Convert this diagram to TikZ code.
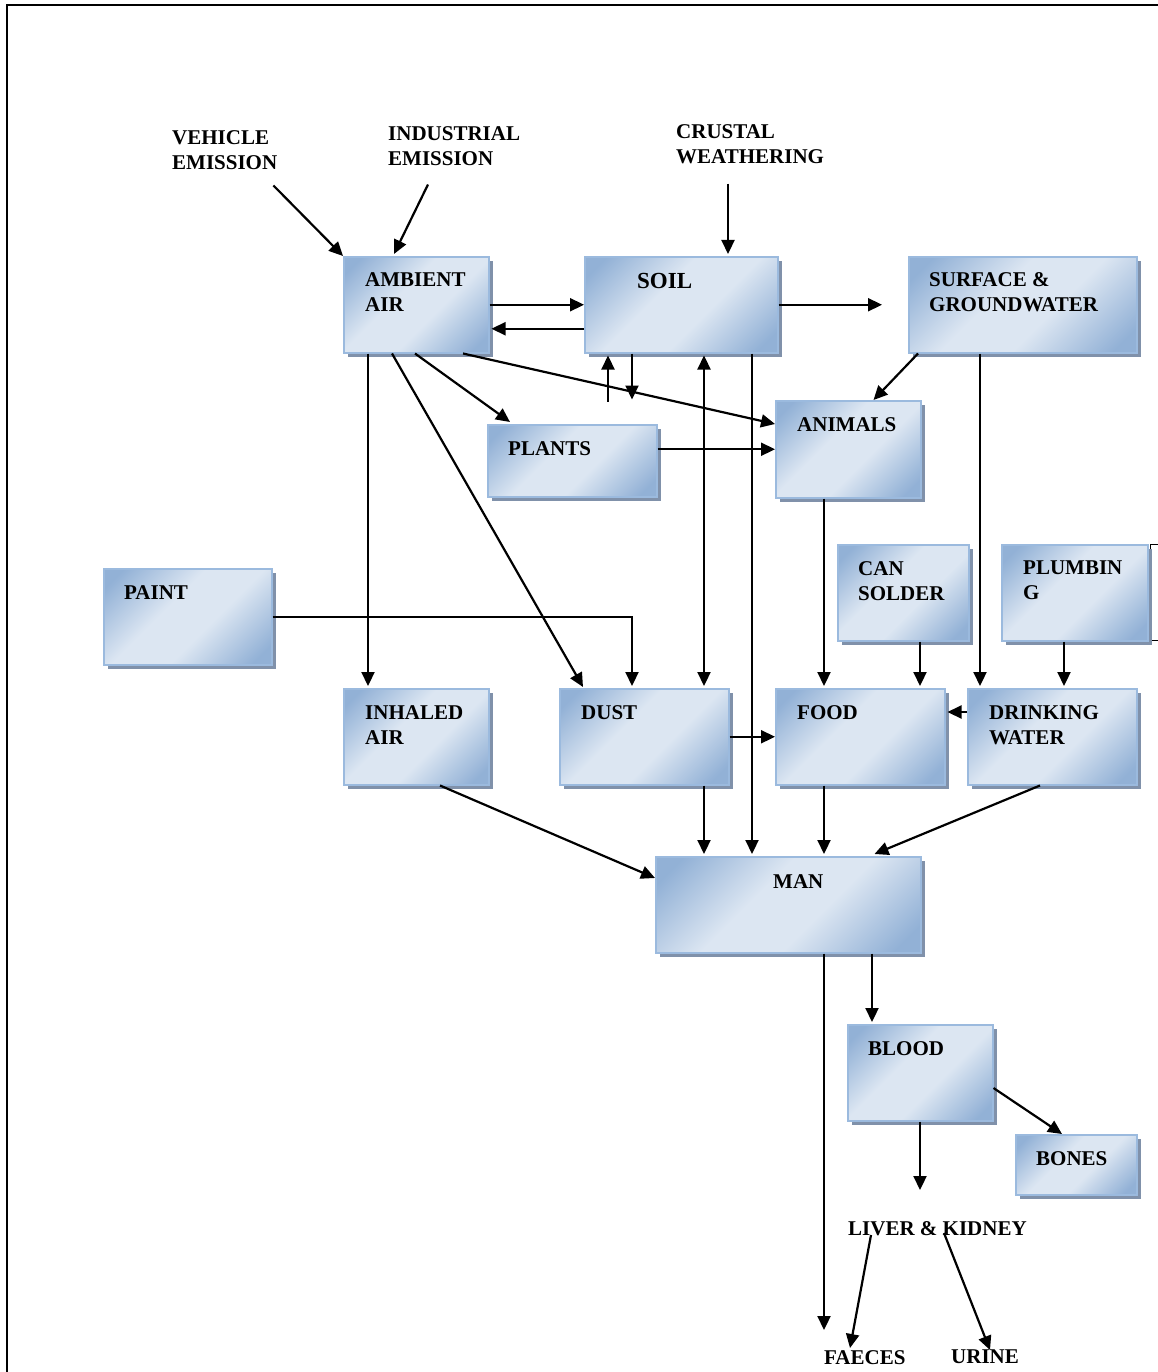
\documentclass[tikz,border=0pt]{standalone}
\usepackage{fontspec}
\setmainfont{Liberation Serif}
\usetikzlibrary{arrows.meta, shadows, calc}

\definecolor{bxdark}{RGB}{146,177,214}
\definecolor{bxlight}{RGB}{220,230,242}
\definecolor{bxline}{RGB}{155,186,222}
\definecolor{bxshadow}{RGB}{128,145,170}
\pgfdeclarehorizontalshading{boxfill}{100bp}{color(0bp)=(bxdark); color(20bp)=(bxdark); color(42bp)=(bxlight); color(58bp)=(bxlight); color(80bp)=(bxdark); color(100bp)=(bxdark)}

\begin{document}
\begin{tikzpicture}[
    x=1pt, y=-1pt,
    font=\bfseries\fontsize{21}{25}\selectfont,
    box/.style={draw=bxline, line width=1.5pt, shading=boxfill, shading angle=-45,
        drop shadow={shadow xshift=4pt, shadow yshift=-4pt, fill=bxshadow, opacity=1},
        anchor=north west, inner sep=0pt},
    txt/.style={anchor=north west, inner sep=0pt, align=left},
    arrow/.style={-{Triangle[length=14pt, width=13pt]}, line width=2.2pt},
    twoway/.style={{Triangle[length=14pt, width=13pt]}-{Triangle[length=14pt, width=13pt]}, line width=2.2pt}
]
    \useasboundingbox (0,0) rectangle (1158,1372);

    % --- frame ---
    \draw[line width=2.5pt] (7,1372) -- (7,5) -- (1158,5);
    \draw[line width=1pt] (1158,544) -- (1150,544) -- (1150,640) -- (1158,640);

    % --- boxes ---
    \node[box, minimum width=145pt, minimum height=96pt] (air) at (343,256) {};
    \node[box, minimum width=193pt, minimum height=96pt] (soil) at (584,256) {};
    \node[box, minimum width=228pt, minimum height=96pt] (surf) at (908,256) {};
    \node[box, minimum width=145pt, minimum height=97pt] (anim) at (775,400) {};
    \node[box, minimum width=169pt, minimum height=72pt] (plant) at (487,424) {};
    \node[box, minimum width=168pt, minimum height=96pt] (paint) at (103,568) {};
    \node[box, minimum width=131pt, minimum height=96pt] (can) at (837,544) {};
    \node[box, minimum width=146pt, minimum height=96pt] (plumb) at (1001,544) {};
    \node[box, minimum width=145pt, minimum height=96pt] (inh) at (343,688) {};
    \node[box, minimum width=169pt, minimum height=96pt] (dust) at (559,688) {};
    \node[box, minimum width=169pt, minimum height=96pt] (food) at (775,688) {};
    \node[box, minimum width=169pt, minimum height=96pt] (drink) at (967,688) {};
    \node[box, minimum width=265pt, minimum height=96pt] (man) at (655,856) {};
    \node[box, minimum width=145pt, minimum height=96pt] (blood) at (847,1024) {};
    \node[box, minimum width=121pt, minimum height=60pt] (bones) at (1015,1134) {};

    % --- box texts ---
    \node[txt] (airtxt) at ([xshift=22pt, yshift=-16pt]air.north west) {AMBIENT\\AIR};
    \node[txt, font=\bfseries\fontsize{23}{27}\selectfont] (soiltxt) at ([xshift=53pt, yshift=-17pt]soil.north west) {SOIL};
    \node[txt] (surftxt) at ([xshift=21pt, yshift=-16pt]surf.north west) {SURFACE \&\\GROUNDWATER};
    \node[txt] (animtxt) at ([xshift=22pt, yshift=-17pt]anim.north west) {ANIMALS};
    \node[txt] (planttxt) at ([xshift=21pt, yshift=-17pt]plant.north west) {PLANTS};
    \node[txt] (painttxt) at ([xshift=21pt, yshift=-17pt]paint.north west) {PAINT};
    \node[txt] (cantxt) at ([xshift=21pt, yshift=-17pt]can.north west) {CAN\\SOLDER};
    \node[txt] (plumbtxt) at ([xshift=22pt, yshift=-17pt]plumb.north west) {PLUMBIN\\G};
    \node[txt] (inhtxt) at ([xshift=22pt, yshift=-17pt]inh.north west) {INHALED\\AIR};
    \node[txt] (dusttxt) at ([xshift=22pt, yshift=-17pt]dust.north west) {DUST};
    \node[txt] (foodtxt) at ([xshift=22pt, yshift=-17pt]food.north west) {FOOD};
    \node[txt] (drinktxt) at ([xshift=22pt, yshift=-17pt]drink.north west) {DRINKING\\WATER};
    \node[txt] (mantxt) at ([xshift=118pt, yshift=-18pt]man.north west) {MAN};
    \node[txt] (bloodtxt) at ([xshift=21pt, yshift=-17pt]blood.north west) {BLOOD};
    \node[txt] (bonestxt) at ([xshift=21pt, yshift=-17pt]bones.north west) {BONES};

    % --- free labels ---
    \node[txt] (veh) at (172,130) {VEHICLE\\EMISSION};
    \node[txt] (ind) at (388,126) {INDUSTRIAL\\EMISSION};
    \node[txt] (crust) at (676,124) {CRUSTAL\\WEATHERING};
    \node[txt] (liv) at (848,1221) {LIVER \& KIDNEY};
    \node[txt] (fae) at (824,1350) {FAECES};
    \node[txt] (uri) at (951,1350) {URINE};

    % --- sources ---
    \draw[arrow] ([xshift=-4pt, yshift=-16pt]veh.south east) -- (air.north west);
    \draw[arrow] ([xshift=40pt, yshift=-19pt]ind.south west) -- ([xshift=51pt, yshift=2pt]air.north west);
    \draw[arrow] ([xshift=52pt, yshift=-20pt]crust.south west) -- ([xshift=144pt, yshift=2pt]soil.north west);

    % --- air and soil ---
    \draw[arrow] (air.east) -- (soil.west);
    \draw[arrow] ([yshift=-24pt]soil.west) -- ([yshift=-24pt, xshift=2pt]air.east);
    \draw[arrow] (soil.east) -- ([xshift=-26pt]surf.west);
    \draw[arrow] ([xshift=10pt]surf.south west) -- ([xshift=-48pt]anim.north east);
    \draw[arrow] ([xshift=25pt]air.south west) -- ([xshift=25pt, yshift=2pt]inh.north west);
    \draw[arrow] ([xshift=49pt]air.south west) -- ([xshift=24pt, yshift=1pt]dust.north west);
    \draw[arrow] ([xshift=72pt]air.south west) -- ([xshift=23pt, yshift=2pt]plant.north west);
    \draw[arrow] ([xshift=120pt]air.south west) -- ([yshift=-24pt]anim.north west);
    \draw[arrow] ([xshift=24pt, yshift=-48pt]soil.south west) -- ([xshift=24pt, yshift=-2pt]soil.south west);
    \draw[arrow] ([xshift=48pt]soil.south west) -- ++(0,46);
    \draw[twoway] ([xshift=120pt, yshift=-2pt]soil.south west) -- ([xshift=145pt, yshift=2pt]dust.north west);
    \draw[arrow] ([xshift=168pt]soil.south west) -- ([xshift=97pt, yshift=2pt]man.north west);
    \draw[arrow] (plant.east |- anim.west) -- (anim.west);

    % --- to food and water ---
    \draw[arrow] ([xshift=49pt]anim.south west) -- ([xshift=49pt, yshift=2pt]food.north west);
    \draw[arrow] (paint.east) -| ([xshift=73pt, yshift=2pt]dust.north west);
    \draw[arrow] ([xshift=83pt]can.south west) -- ([xshift=145pt, yshift=2pt]food.north west);
    \draw[arrow] ([xshift=72pt]surf.south west) -- ([xshift=13pt, yshift=2pt]drink.north west);
    \draw[arrow] ([xshift=63pt]plumb.south west) -- ([xshift=97pt, yshift=2pt]drink.north west);
    \draw[arrow] ([yshift=-24pt]drink.north west) -- ([yshift=-24pt, xshift=2pt]food.north east);
    \draw[arrow] (dust.east) -- (food.west);

    % --- to man ---
    \draw[arrow] ([xshift=97pt]inh.south west) -- ([yshift=-22pt]man.north west);
    \draw[arrow] ([xshift=145pt]dust.south west) -- ([xshift=49pt, yshift=2pt]man.north west);
    \draw[arrow] ([xshift=49pt]food.south west) -- ([xshift=169pt, yshift=2pt]man.north west);
    \draw[arrow] ([xshift=73pt]drink.south west) -- ([xshift=-47pt, yshift=2pt]man.north east);

    % --- from man ---
    \draw[arrow] ([xshift=169pt]man.south west) -- ([yshift=20pt]fae.north west);
    \draw[arrow] ([xshift=217pt]man.south west) -- ([xshift=25pt, yshift=2pt]blood.north west);
    \draw[arrow] ([yshift=-64pt]blood.north east) -- ([xshift=47pt]bones.north west);
    \draw[arrow] ([xshift=73pt]blood.south west) -- ([xshift=72pt, yshift=31pt]liv.north west);
    \draw[arrow] ([xshift=23pt, yshift=-14pt]liv.north west) -- ([xshift=26pt, yshift=2pt]fae.north west);
    \draw[arrow] ([xshift=96pt, yshift=-12pt]liv.north west) -- ([xshift=39pt]uri.north west);
\end{tikzpicture}
\end{document}
